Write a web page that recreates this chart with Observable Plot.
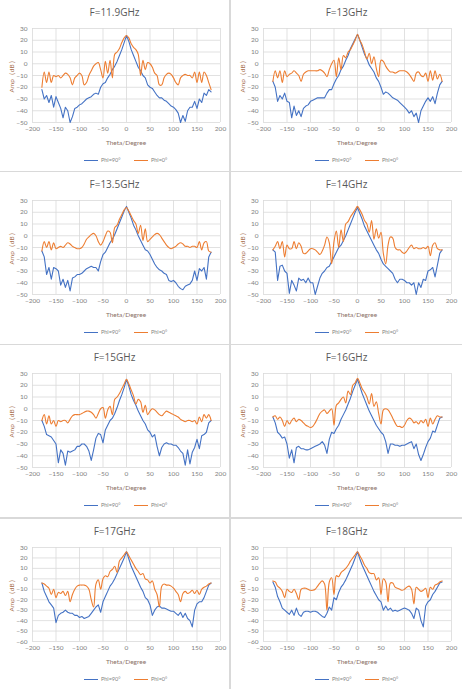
<!DOCTYPE html>
<html>
<head>
<meta charset="utf-8">
<script src="https://cdn.jsdelivr.net/npm/d3@7"></script>
<script src="https://cdn.jsdelivr.net/npm/@observablehq/plot@0.6"></script>
<style>
  html, body { margin: 0; padding: 0; background: #fff; }
  #root { position: relative; width: 462px; height: 689px; overflow: hidden; font-family: Lato, "Liberation Sans", sans-serif; }
  .panel { position: absolute; }
  .title { position: absolute; left: 0; right: 0; top: 5px; text-align: center; font-size: 10px; color: #595959; line-height: 14px; font-family: "Open Sans", Lato, sans-serif; font-weight: 400; }
  .svgwrap { position: absolute; left: 0; top: 20px; }
  .ylab { position: absolute; left: 12px; top: 75px; transform: translate(-50%, -50%) rotate(-90deg); font-size: 6.5px; color: #a8714f; white-space: nowrap; }
  .xlab { position: absolute; left: 32px; width: 188px; top: 139px; text-align: center; font-size: 6.5px; color: #8a6f66; }
  .legend { position: absolute; top: 156px; left: 0; right: 0; height: 8px; font-size: 5.5px; color: #7f7f7f; }
  .legend span { position: absolute; top: 0; line-height: 8px; }
  .legend i { position: absolute; top: 3.5px; height: 1.3px; }
  .sep { position: absolute; background: #d9d9d9; }
</style>
</head>
<body>
<div id="root"></div>
<script>
// ---- data ----
const theta = [-180,-175,-170,-165,-160,-155,-150,-145,-140,-135,-130,-125,-120,-115,-110,-105,-100,-95,-90,-85,-80,-75,-70,-65,-60,-55,-50,-45,-40,-35,-30,-25,-20,-15,-10,-5,0,5,10,15,20,25,30,35,40,45,50,55,60,65,70,75,80,85,90,95,100,105,110,115,120,125,130,135,140,145,150,155,160,165,170,175,180];

const titles = ["F=11.9GHz","F=13GHz","F=13.5GHz","F=14GHz","F=15GHz","F=16GHz","F=17GHz","F=18GHz"];
const seriesNames = ["Phi=90°","Phi=0°"];
const xTicks = [-200,-150,-100,-50,0,50,100,150,200];
const yTicksA = [-50,-40,-30,-20,-10,0,10,20,30];
const yTicksB = [-60,-50,-40,-30,-20,-10,0,10,20,30];

const blue119 = [-22,-30,-27,-33,-27,-37,-28,-33,-38,-46,-37,-40,-50,-45,-38,-37,-35,-34,-32,-30,-29,-28,-26,-25,-26,-20,-17,-16,-12,-9,-5,-2,2,7,12,18,24,19,12,7,2,-3,-6,-10,-12,-18,-20,-21,-24,-27,-29,-29,-31,-32,-34,-36,-37,-39,-42,-50,-44,-49,-40,-37,-37,-32,-38,-30,-33,-25,-27,-22,-24];
const orange119 = [-20,-7,-16,-7,-16,-10,-11,-10,-12,-10,-8,-9,-12,-18,-12,-10,-8,-10,-18,-16,-10,-6,-2,0,1,-5,-12,2,-8,3,-12,8,10,13,18,22,24,22,17,14,12,8,-10,3,-5,1,0,-3,-8,-10,-18,-18,-12,-9,-8,-9,-12,-16,-18,-12,-10,-9,-10,-10,-12,-7,-16,-7,-16,-7,-10,-16,-22];

const blue13 = [-15,-20,-32,-27,-30,-25,-32,-33,-46,-36,-44,-40,-45,-38,-36,-35,-32,-31,-30,-29,-29,-29,-29,-25,-22,-22,-17,-13,-10,-5,-2,3,7,13,17,21,25,20,14,8,4,-1,-4,-7,-12,-15,-20,-26,-24,-25,-27,-29,-30,-31,-33,-35,-37,-39,-42,-40,-45,-42,-50,-40,-36,-32,-29,-32,-28,-34,-25,-18,-15];
const orange13 = [-15,-6,-12,-6,-16,-6,-11,-9,-8,-6,-8,-10,-15,-9,-7,-6,-6,-6,-6,-6,-5,-6,-8,-11,-5,0,3,-11,5,-5,7,5,10,12,16,20,25,20,16,10,4,9,0,6,-4,-11,3,2,-2,-5,-7,-7,-8,-7,-6,-6,-6,-7,-9,-12,-15,-8,-7,-10,-11,-8,-15,-6,-14,-6,-13,-9,-15];

const blue135 = [-13,-18,-33,-27,-37,-27,-28,-30,-42,-37,-44,-38,-47,-36,-35,-33,-33,-32,-30,-28,-27,-26,-27,-27,-30,-22,-16,-14,-10,-6,-3,1,6,11,16,21,25,20,15,9,5,0,-4,-8,-12,-13,-16,-20,-24,-27,-29,-30,-32,-33,-38,-39,-38,-40,-43,-45,-46,-43,-42,-41,-38,-30,-38,-28,-30,-27,-37,-18,-14];
const orange135 = [-13,-5,-10,-5,-12,-6,-11,-10,-9,-10,-8,-6,-7,-9,-10,-11,-11,-10,-7,-3,-1,1,2,0,-5,-8,-5,0,4,3,-6,7,9,14,18,22,24,21,17,13,10,2,9,-4,6,-5,-3,-1,1,2,1,-2,-5,-8,-10,-11,-10,-9,-7,-6,-7,-9,-9,-10,-9,-9,-10,-5,-12,-6,-5,-13,-14];

const blue14 = [-12,-14,-38,-26,-25,-30,-32,-49,-38,-42,-47,-36,-38,-37,-40,-36,-40,-40,-50,-43,-36,-32,-30,-27,-26,-22,-18,-14,-10,-8,-4,0,5,10,15,20,24,19,14,8,4,0,-4,-8,-12,-15,-20,-24,-26,-28,-30,-32,-37,-40,-37,-37,-38,-40,-40,-42,-40,-50,-40,-44,-37,-38,-30,-29,-27,-35,-25,-15,-12];
const orange14 = [-12,-9,-5,-11,-5,-18,-8,-11,-11,-5,-11,-6,-9,-15,-15,-13,-11,-11,-12,-14,-16,-13,-8,-1,-6,-24,-5,4,-10,5,-5,10,12,16,19,22,25,22,18,13,10,3,13,-3,6,-2,3,-15,-24,-8,-1,-2,-10,-12,-12,-14,-15,-13,-10,-8,-11,-10,-11,-11,-10,-11,-9,-17,-8,-6,-11,-12,-12];

const blue15 = [-10,-15,-22,-23,-24,-27,-30,-46,-35,-38,-48,-36,-37,-36,-35,-32,-32,-30,-30,-32,-36,-44,-35,-25,-21,-22,-29,-18,-14,-10,-8,-4,1,7,12,18,25,19,12,7,3,-2,-6,-10,-13,-18,-20,-24,-22,-32,-40,-33,-30,-29,-30,-30,-31,-31,-33,-36,-38,-48,-35,-47,-37,-33,-26,-34,-23,-22,-20,-12,-10];
const orange15 = [-10,-5,-13,-6,-13,-10,-15,-10,-11,-10,-10,-12,-9,-6,-5,-5,-5,-4,-3,-2,-2,-3,-5,-8,-4,0,1,-8,-1,2,-5,8,10,13,17,21,25,21,16,11,4,8,6,-3,3,-5,-2,0,-1,-3,-5,-6,-4,-2,-3,-4,-5,-6,-7,-9,-10,-11,-10,-10,-11,-10,-13,-7,-11,-5,-8,-5,-10];

const blue16 = [-7,-12,-20,-22,-25,-24,-30,-42,-35,-46,-33,-32,-34,-34,-35,-35,-34,-33,-32,-31,-30,-28,-31,-38,-26,-20,-21,-17,-14,-9,-5,-1,4,9,15,20,25,19,13,8,3,-2,-6,-10,-14,-17,-20,-22,-28,-38,-30,-30,-31,-31,-32,-31,-31,-30,-29,-28,-34,-30,-39,-44,-39,-33,-28,-25,-19,-20,-14,-8,-7];
const orange16 = [-7,-6,-9,-7,-10,-15,-10,-13,-10,-8,-11,-9,-10,-12,-14,-15,-16,-15,-12,-8,-4,-2,-1,-4,-2,0,-14,3,5,8,10,5,15,12,20,22,26,22,17,14,10,4,13,2,6,-4,-13,-1,0,-1,-4,-8,-12,-15,-15,-16,-14,-10,-8,-9,-12,-11,-13,-10,-12,-9,-15,-8,-13,-9,-6,-7,-7];

const blue17 = [-4,-12,-17,-22,-25,-28,-42,-35,-33,-32,-30,-32,-33,-33,-35,-35,-37,-36,-38,-37,-36,-33,-30,-27,-25,-32,-22,-17,-12,-7,-4,0,5,10,15,20,26,19,12,7,2,-3,-8,-12,-18,-20,-25,-35,-30,-27,-26,-28,-28,-29,-30,-31,-31,-33,-35,-32,-37,-33,-38,-40,-46,-30,-24,-22,-22,-18,-12,-6,-4];
const orange17 = [-4,-5,-7,-9,-15,-10,-18,-13,-14,-12,-16,-12,-22,-15,-10,-7,-6,-6,-6,-7,-10,-20,-27,-5,-1,-10,0,3,2,7,9,12,6,17,20,23,26,22,18,14,10,7,4,5,0,-1,-4,-2,-10,-15,-27,-7,-5,-6,-6,-7,-9,-12,-15,-22,-14,-12,-14,-13,-11,-14,-11,-15,-10,-8,-7,-5,-4];

const blue18 = [-3,-8,-17,-22,-28,-30,-32,-34,-30,-35,-28,-34,-36,-32,-31,-31,-32,-31,-31,-32,-34,-36,-37,-33,-27,-30,-18,-20,-13,-8,-5,-1,4,9,14,20,26,19,13,8,3,-2,-7,-12,-16,-20,-22,-30,-26,-30,-28,-31,-30,-31,-30,-29,-28,-29,-30,-33,-38,-28,-30,-40,-46,-26,-22,-20,-15,-12,-8,-4,-3];
const orange18 = [-2,-3,-7,-9,-12,-18,-10,-12,-13,-10,-14,-20,-10,-9,-9,-10,-11,-11,-10,-7,-4,-2,-5,-30,-3,1,-15,3,2,6,8,10,13,17,20,23,26,22,18,13,10,6,5,5,-1,1,-15,0,-3,-22,-4,-4,-8,-9,-10,-11,-10,-8,-7,-10,-24,-8,-10,-12,-11,-9,-18,-8,-10,-6,-5,-3,-2];

const blueSeries = [blue119, blue13, blue135, blue14, blue15, blue16, blue17, blue18];
const orangeSeries = [orange119, orange13, orange135, orange14, orange15, orange16, orange17, orange18];
const yTickSets = [yTicksA, yTicksA, yTicksA, yTicksA, yTicksA, yTicksA, yTicksB, yTicksB];

// ---- layout ----
const BLUE = "#4472c4", ORANGE = "#ed7d31", GRID = "#d9d9d9";
const colX = [0, 231], colW = [229, 231];
const rowY = [0, 172, 345, 519], rowH = [171, 172, 173, 170];
const root = document.getElementById("root");

titles.forEach((title, k) => {
  const r = Math.floor(k / 2), c = k % 2;
  const w = colW[c];
  const panel = document.createElement("div");
  panel.className = "panel";
  panel.style.left = colX[c] + "px";
  panel.style.top = rowY[r] + "px";
  panel.style.width = w + "px";
  panel.style.height = rowH[r] + "px";
  root.appendChild(panel);

  const t = document.createElement("div");
  t.className = "title";
  t.textContent = title;
  panel.appendChild(t);

  const yTicks = yTickSets[k];
  const toRows = arr => theta.map((th, i) => ({theta: th, amp: arr[i]}));
  const chart = Plot.plot({
    width: w,
    height: 132,
    marginLeft: 32,
    marginRight: w - 220,
    marginTop: 8,
    marginBottom: 30,
    x: {domain: [-200, 200]},
    y: {domain: [yTicks[0], yTicks[yTicks.length - 1]]},
    style: {fontSize: "6.5px", fontFamily: "Lato, 'Liberation Sans', sans-serif", color: "#7f7f7f", background: "transparent", overflow: "visible"},
    marks: [
      Plot.gridX(xTicks, {stroke: GRID, strokeOpacity: 1, strokeWidth: 0.8}),
      Plot.gridY(yTicks, {stroke: GRID, strokeOpacity: 1, strokeWidth: 0.8}),
      Plot.axisX(xTicks, {tickSize: 0, tickPadding: 4, label: null, fill: "#7f7f7f"}),
      Plot.axisY(yTicks, {tickSize: 0, tickPadding: 5, label: null, fill: "#7f7f7f"}),
      Plot.line(toRows(blueSeries[k]), {x: "theta", y: "amp", stroke: BLUE, strokeWidth: 1.1}),
      Plot.line(toRows(orangeSeries[k]), {x: "theta", y: "amp", stroke: ORANGE, strokeWidth: 1.1, curve: "catmull-rom"})
    ]
  });
  const wrap = document.createElement("div");
  wrap.className = "svgwrap";
  wrap.appendChild(chart);
  panel.appendChild(wrap);

  const yl = document.createElement("div");
  yl.className = "ylab";
  yl.textContent = "Amp（dB）";
  panel.appendChild(yl);

  const xl = document.createElement("div");
  xl.className = "xlab";
  xl.textContent = "Theta/Degree";
  panel.appendChild(xl);

  const lg = document.createElement("div");
  lg.className = "legend";
  lg.innerHTML =
    `<i style="left:84px;width:14px;background:${BLUE}"></i><span style="left:101px">${seriesNames[0]}</span>` +
    `<i style="left:134px;width:14px;background:${ORANGE}"></i><span style="left:151px">${seriesNames[1]}</span>`;
  panel.appendChild(lg);
});

// separators
const seps = [
  {left: 229, top: 0, width: 2, height: 689},
  {left: 0, top: 170.5, width: 462, height: 1.8},
  {left: 0, top: 343.5, width: 462, height: 1.8},
  {left: 0, top: 517, width: 462, height: 1.8}
];
seps.forEach(s => {
  const d = document.createElement("div");
  d.className = "sep";
  Object.assign(d.style, {left: s.left + "px", top: s.top + "px", width: s.width + "px", height: s.height + "px"});
  root.appendChild(d);
});
</script>
</body>
</html>
